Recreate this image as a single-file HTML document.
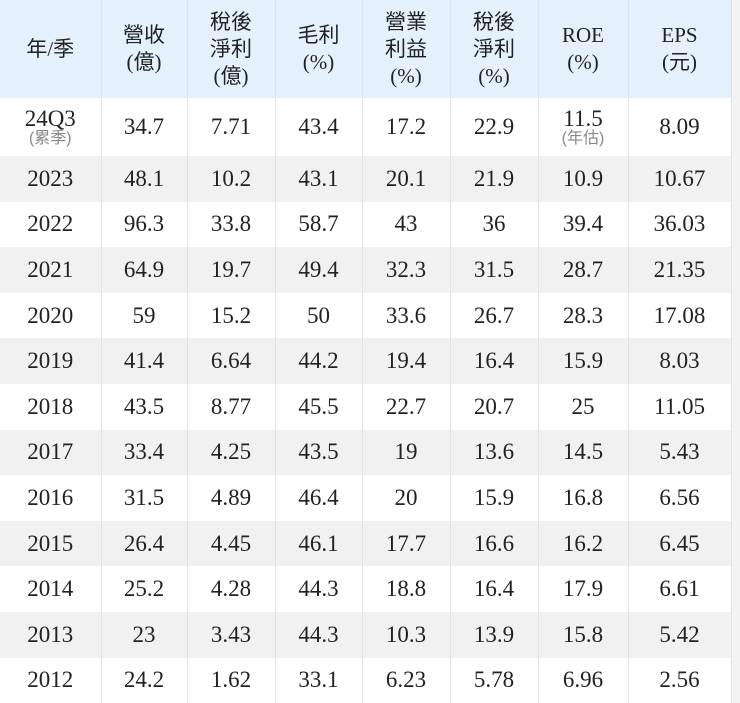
<!DOCTYPE html><html><head><meta charset="utf-8"><style>
body{margin:0;width:740px;height:696px;overflow:hidden;background:#f3f3f3;}
table{border-collapse:collapse;table-layout:fixed;width:731px;background:#fff;}
td,th{border-right:1px solid #dde3ea;text-align:center;padding:0;color:#222;}
th{background:#e4f1fd;font:400 21px/27px "Liberation Serif","Noto Sans CJK TC",serif;height:98px;}
td{font:400 23px/24px "Liberation Serif","Noto Serif CJK SC",serif;height:45.6px;}
tr.a td{background:#f1f1f1;}
tr.f td{height:58px;}
small{display:block;font:400 16px/16px "Liberation Sans","Noto Sans CJK TC",sans-serif;color:#888;}
</style></head><body><table>
<colgroup><col style="width:101px"><col style="width:86px"><col style="width:88px"><col style="width:87px"><col style="width:88px"><col style="width:88px"><col style="width:90px"><col style="width:103px"></colgroup>
<tr><th>年/季</th><th>營收<br>(億)</th><th>稅後<br>淨利<br>(億)</th><th>毛利<br>(%)</th><th>營業<br>利益<br>(%)</th><th>稅後<br>淨利<br>(%)</th><th>ROE<br>(%)</th><th>EPS<br>(元)</th></tr>
<tr class="f"><td>24Q3<small>(累季)</small></td><td>34.7</td><td>7.71</td><td>43.4</td><td>17.2</td><td>22.9</td><td>11.5<small>(年估)</small></td><td>8.09</td></tr>
<tr class="a"><td>2023</td><td>48.1</td><td>10.2</td><td>43.1</td><td>20.1</td><td>21.9</td><td>10.9</td><td>10.67</td></tr>
<tr><td>2022</td><td>96.3</td><td>33.8</td><td>58.7</td><td>43</td><td>36</td><td>39.4</td><td>36.03</td></tr>
<tr class="a"><td>2021</td><td>64.9</td><td>19.7</td><td>49.4</td><td>32.3</td><td>31.5</td><td>28.7</td><td>21.35</td></tr>
<tr><td>2020</td><td>59</td><td>15.2</td><td>50</td><td>33.6</td><td>26.7</td><td>28.3</td><td>17.08</td></tr>
<tr class="a"><td>2019</td><td>41.4</td><td>6.64</td><td>44.2</td><td>19.4</td><td>16.4</td><td>15.9</td><td>8.03</td></tr>
<tr><td>2018</td><td>43.5</td><td>8.77</td><td>45.5</td><td>22.7</td><td>20.7</td><td>25</td><td>11.05</td></tr>
<tr class="a"><td>2017</td><td>33.4</td><td>4.25</td><td>43.5</td><td>19</td><td>13.6</td><td>14.5</td><td>5.43</td></tr>
<tr><td>2016</td><td>31.5</td><td>4.89</td><td>46.4</td><td>20</td><td>15.9</td><td>16.8</td><td>6.56</td></tr>
<tr class="a"><td>2015</td><td>26.4</td><td>4.45</td><td>46.1</td><td>17.7</td><td>16.6</td><td>16.2</td><td>6.45</td></tr>
<tr><td>2014</td><td>25.2</td><td>4.28</td><td>44.3</td><td>18.8</td><td>16.4</td><td>17.9</td><td>6.61</td></tr>
<tr class="a"><td>2013</td><td>23</td><td>3.43</td><td>44.3</td><td>10.3</td><td>13.9</td><td>15.8</td><td>5.42</td></tr>
<tr><td>2012</td><td>24.2</td><td>1.62</td><td>33.1</td><td>6.23</td><td>5.78</td><td>6.96</td><td>2.56</td></tr>
</table></body></html>
